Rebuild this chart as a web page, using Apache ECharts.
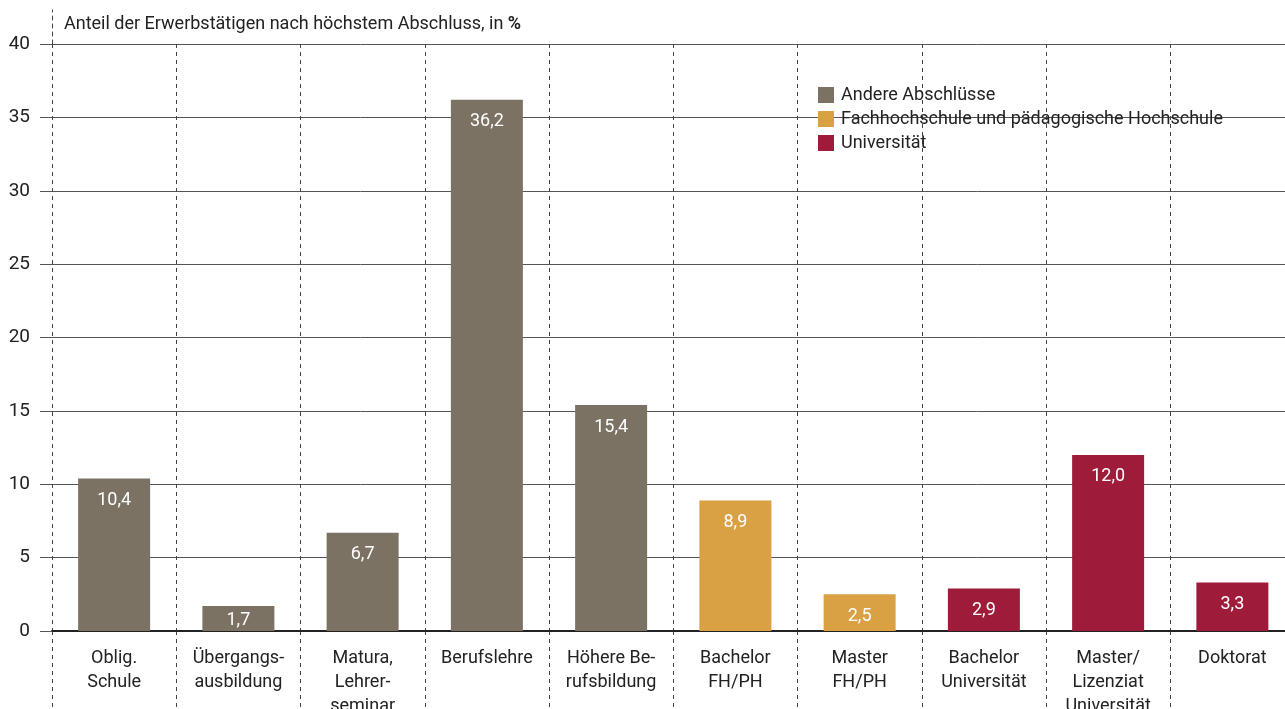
<!DOCTYPE html>
<html>
<head>
<meta charset="utf-8">
<script src="https://cdn.jsdelivr.net/npm/echarts@6/dist/echarts.min.js"></script>
<style>
  html, body { margin: 0; padding: 0; background: #fff; }
  #chart { width: 1285px; height: 709px; }
</style>
</head>
<body>
<div id="chart"></div>
<script>
// data
const categories = [
  "Oblig.\nSchule", "Übergangs-\nausbildung", "Matura,\nLehrer-\nseminar", "Berufslehre",
  "Höhere Be-\nrufsbildung", "Bachelor\nFH/PH", "Master\nFH/PH", "Bachelor\nUniversität",
  "Master/\nLizenziat\nUniversität", "Doktorat"
]
const andere = [10.4, 1.7, 6.7, 36.2, 15.4, "-", "-", "-", "-", "-"]
const fachhochschule = ["-", "-", "-", "-", "-", 8.9, 2.5, "-", "-", "-"]
const universitaet = ["-", "-", "-", "-", "-", "-", "-", 2.9, 12.0, 3.3]
const seriesNames = ["Andere Abschlüsse", "Fachhochschule und pädagogische Hochschule", "Universität"]
const colors = ["#7b7264", "#d9a044", "#9e1b3a"]

const FONT = "Roboto, 'DejaVu Sans', sans-serif"

const chart = echarts.init(document.getElementById("chart"))

function makeSeries(name, values, color) {
  return {
    name: name,
    type: "bar",
    stack: "one",
    xAxisIndex: 0,
    yAxisIndex: 0,
    barWidth: 72,
    itemStyle: { color: color },
    data: values.map(v => {
      if (v === "-") return v
      return {
        value: v,
        label: { distance: v < 2 ? 5 : 13 }
      }
    }),
    label: {
      show: true,
      position: "insideTop",
      color: "#fff",
      fontFamily: FONT,
      fontSize: 18,
      formatter: p => p.value.toFixed(1).replace(".", ",")
    }
  }
}

chart.setOption({
  animation: false,
  textStyle: { fontFamily: FONT },
  title: {
    text: "Anteil der Erwerbstätigen nach höchstem Abschluss, in {b|%}",
    left: 59,
    top: 10,
    textStyle: {
      fontFamily: FONT, fontSize: 18, fontWeight: "normal", color: "#222",
      rich: { b: { fontFamily: FONT, fontSize: 18, fontWeight: "bold", color: "#222" } }
    }
  },
  legend: {
    data: seriesNames,
    orient: "vertical",
    left: 813,
    top: 81,
    itemWidth: 16,
    itemHeight: 16,
    itemGap: 6,
    icon: "rect",
    textStyle: { fontFamily: FONT, fontSize: 18, color: "#222", padding: [0, 0, 0, 2] }
  },
  grid: [
    { left: 52, right: -9.5, top: 44, bottom: 78, outerBoundsMode: "none", containLabel: false },
    { left: 52, right: -9.5, top: 631, bottom: 0, outerBoundsMode: "none", containLabel: false },
    { left: 52, width: 1, top: 10, height: 34, outerBoundsMode: "none", containLabel: false }
  ],
  xAxis: [
    {
      type: "category",
      gridIndex: 0,
      data: categories,
      axisLine: { lineStyle: { color: "#222", width: 2 } },
      axisTick: { show: false },
      axisLabel: {
        color: "#222",
        fontFamily: FONT,
        fontSize: 18,
        lineHeight: 24,
        margin: 15,
        interval: 0
      },
      splitLine: { show: true, lineStyle: { color: "#444", type: [4, 4], width: 1 } }
    },
    {
      type: "category",
      gridIndex: 1,
      data: categories,
      axisLine: { show: false },
      axisTick: { show: false },
      axisLabel: { show: false },
      splitLine: { show: true, lineStyle: { color: "#444", type: [4, 4], width: 1 } }
    },
    { type: "value", gridIndex: 2, show: false }
  ],
  yAxis: [
    {
      type: "value",
      gridIndex: 0,
      min: 0,
      max: 40,
      interval: 5,
      axisLine: { show: false },
      axisTick: { show: true, length: 12, lineStyle: { color: "#555" } },
      axisLabel: { color: "#222", fontFamily: FONT, fontSize: 19, margin: 22 },
      splitLine: { show: true, lineStyle: { color: "#555", width: 1 } }
    },
    { type: "value", gridIndex: 1, show: false },
    {
      type: "value",
      gridIndex: 2,
      axisLine: { show: true, lineStyle: { color: "#444", type: [4, 4], width: 1 } },
      axisTick: { show: false },
      axisLabel: { show: false },
      splitLine: { show: false }
    }
  ],
  series: [
    makeSeries(seriesNames[0], andere, colors[0]),
    makeSeries(seriesNames[1], fachhochschule, colors[1]),
    makeSeries(seriesNames[2], universitaet, colors[2])
  ]
})
</script>
</body>
</html>
